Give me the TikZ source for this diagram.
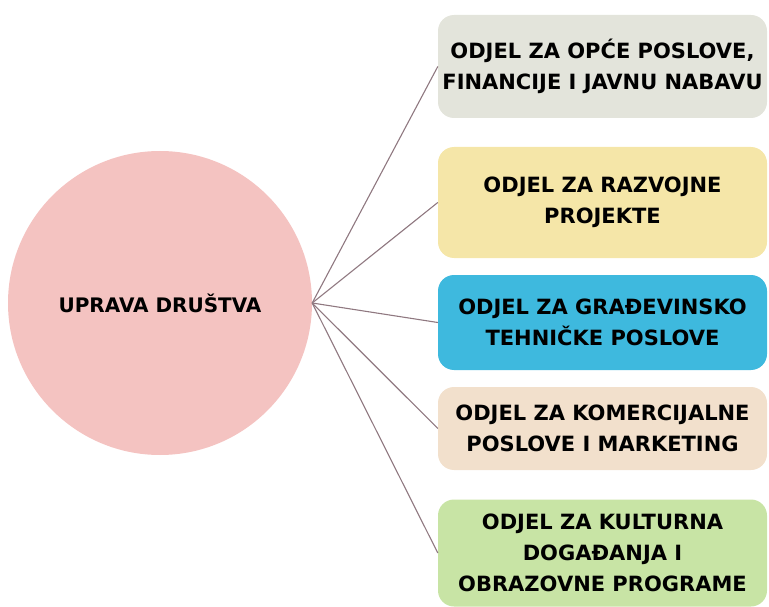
\documentclass[tikz,border=0pt]{standalone}
\usepackage{fontspec}
\setmainfont{DejaVu Sans}

\definecolor{upravapink}{HTML}{F4C3C1}
\definecolor{odjelgray}{HTML}{E3E4DB}
\definecolor{odjelyellow}{HTML}{F5E6A8}
\definecolor{odjelblue}{HTML}{3EB9DE}
\definecolor{odjelbeige}{HTML}{F2E0CC}
\definecolor{odjelgreen}{HTML}{C8E4A5}
\definecolor{veza}{HTML}{8F7880}

\tikzset{
    odjel/.style={rounded corners=16pt, minimum width=329pt, inner sep=0pt, align=center,
        font=\fontsize{21}{31}\selectfont\bfseries},
    veza/.style={draw=veza, line width=1.1pt}
}

\begin{document}
\begin{tikzpicture}[x=1pt, y=-1pt]
    \useasboundingbox (0,0) rectangle (769,607);

    \node[circle, fill=upravapink, minimum size=304pt, inner sep=0pt,
        font=\fontsize{20}{24}\selectfont\bfseries] (uprava) at (160,303) {UPRAVA DRUŠTVA};

    \node[odjel, fill=odjelgray, minimum height=103pt] (opci) at (602.5,66.5)
        {ODJEL ZA OPĆE POSLOVE,\\ FINANCIJE I JAVNU NABAVU};
    \node[odjel, fill=odjelyellow, minimum height=111pt] (razvoj) at (602.5,202.5)
        {ODJEL ZA RAZVOJNE\\ PROJEKTE};
    \node[odjel, fill=odjelblue, minimum height=95pt] (gradj) at (602.5,322.5)
        {ODJEL ZA GRAĐEVINSKO\\ TEHNIČKE POSLOVE};
    \node[odjel, fill=odjelbeige, minimum height=83pt] (komerc) at (602.5,428.5)
        {ODJEL ZA KOMERCIJALNE\\ POSLOVE I MARKETING};
    \node[odjel, fill=odjelgreen, minimum height=107pt] (kultura) at (602.5,553)
        {ODJEL ZA KULTURNA\\ DOGAĐANJA I\\ OBRAZOVNE PROGRAME};

    % Veze od uprave do odjela
    \foreach \o in {opci, razvoj, gradj, komerc, kultura} \draw[veza] (uprava.east) -- (\o.west);
\end{tikzpicture}
\end{document}
